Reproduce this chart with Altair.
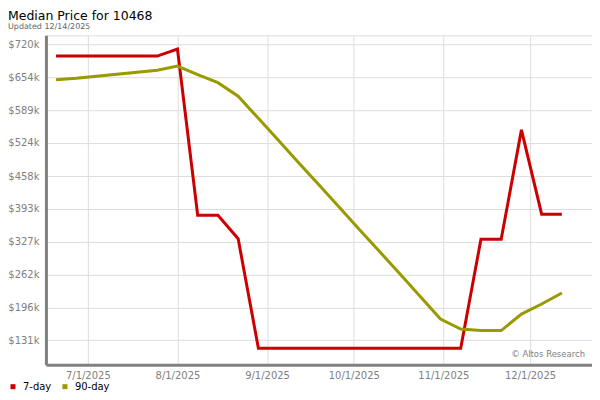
import altair as alt
import pandas as pd

dates = ["2025-06-20", "2025-06-27", "2025-07-04", "2025-07-11", "2025-07-18", "2025-07-25",
         "2025-08-01", "2025-08-08", "2025-08-15", "2025-08-22", "2025-08-29", "2025-09-05",
         "2025-09-12", "2025-09-19", "2025-09-26", "2025-10-03", "2025-10-10", "2025-10-17",
         "2025-10-24", "2025-10-31", "2025-11-07", "2025-11-14", "2025-11-21", "2025-11-28",
         "2025-12-05", "2025-12-12"]
seven_day = [697, 697, 697, 697, 697, 697, 711, 380, 380, 333, 115, 115, 115, 115, 115,
             115, 115, 115, 115, 115, 115, 332, 332, 550, 382, 382]
ninety_day = [650, 653, 657, 661, 665, 669, 677, 660, 644, 617, 573, 529, 484, 440, 396,
              351, 307, 263, 218, 173, 153, 150, 150, 183, 203, 225]
series_names = ["7-day", "90-day"]
series_colors = ["#cc0000", "#999900"]
y_ticks = [131, 196, 262, 327, 393, 458, 524, 589, 654, 720]
x_ticks = [(2025, 7), (2025, 8), (2025, 9), (2025, 10), (2025, 11), (2025, 12)]
credit_text = ["\u00a9 Altos Research"]

rows = []
for d, v in zip(dates, seven_day):
    rows.append({"date": d, "series": "7-day", "value": v})
for d, v in zip(dates, ninety_day):
    rows.append({"date": d, "series": "90-day", "value": v})
df = pd.DataFrame(rows)

FONT = "DejaVu Sans"

x_enc = alt.X(
    "date:T",
    scale=alt.Scale(
        type="utc",
        domain=[alt.DateTime(year=2025, month=6, date=16, hours=12, utc=True),
                alt.DateTime(year=2025, month=12, date=22, hours=10, utc=True)],
    ),
    axis=alt.Axis(
        values=[alt.DateTime(year=y, month=m, date=1, utc=True) for y, m in x_ticks],
        format="%-m/%-d/%Y",
        title=None,
        labelColor="#808080",
        labelFontSize=10,
        labelFont=FONT,
        labelPadding=6,
        ticks=False,
        domainColor="#808080",
        domainWidth=3,
        gridColor="#dddddd",
        gridWidth=1,
    ),
)
y_enc = alt.Y(
    "value:Q",
    scale=alt.Scale(domain=[82, 738.5], nice=False, zero=False),
    axis=alt.Axis(
        values=y_ticks,
        labelExpr="'$' + datum.value + 'k'",
        title=None,
        labelColor="#808080",
        labelFontSize=10,
        labelFont=FONT,
        labelPadding=7,
        ticks=False,
        domainColor="#808080",
        domainWidth=3,
        gridColor="#dddddd",
        gridWidth=1,
    ),
)

lines = alt.Chart(df).mark_line(strokeWidth=3).encode(
    x=x_enc,
    y=y_enc,
    color=alt.Color(
        "series:N",
        scale=alt.Scale(domain=series_names, range=series_colors),
        legend=alt.Legend(
            title=None,
            orient="none",
            legendX=-38,
            legendY=347,
            direction="horizontal",
            symbolType="square",
            symbolSize=4,
            symbolStrokeWidth=3,
            labelFontSize=10,
            labelFont=FONT,
            labelColor="#000000",
            columnPadding=6,
            labelOffset=5,
            padding=0,
        ),
    ),
)

credit = alt.Chart(pd.DataFrame({"t": credit_text})).mark_text(
    align="right", baseline="middle", fontSize=8.5, font=FONT, color="#808080"
).encode(
    x=alt.value(540),
    y=alt.value(319),
    text="t:N",
)

chart = alt.layer(lines, credit).properties(
    width=547,
    height=330,
    autosize=alt.AutoSizeParams(type="none"),
    padding={"left": 38, "top": 27, "right": 0, "bottom": 30},
    title=alt.TitleParams(
        text="Median Price for 10468",
        subtitle="Updated 12/14/2025",
        anchor="start",
        frame="group",
        dx=-38,
        offset=4,
        font=FONT,
        fontSize=12.5,
        fontWeight="normal",
        color="#000000",
        subtitleFont=FONT,
        subtitleFontSize=8,
        subtitleColor="#666666",
        subtitlePadding=1,
    ),
).configure_view(stroke="#dddddd", strokeWidth=1)

chart.save("out.html", embed_options={"renderer": "svg", "actions": False})
